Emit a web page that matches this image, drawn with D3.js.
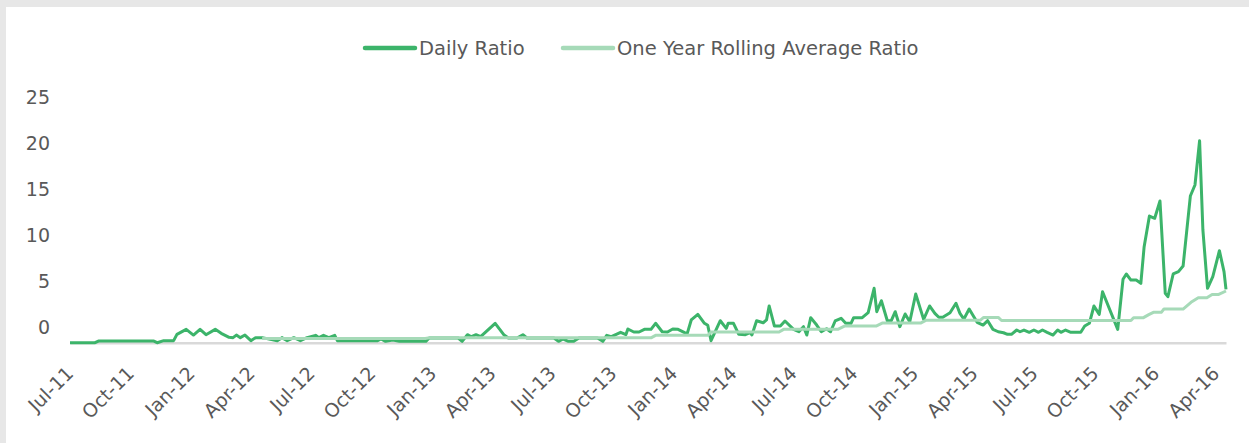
<!DOCTYPE html>
<html>
<head>
  <meta charset="UTF-8">
  <title>Daily Ratio vs One Year Rolling Average</title>
  <script src="https://d3js.org/d3.v7.min.js"></script>
  <style>
    body {
      margin: 0;
      padding: 0;
      background-color: #e7e7e7;
      font-family: 'DejaVu Sans', sans-serif;
    }
    svg text {
      fill: #595959;
    }
  </style>
</head>
<body>
  <svg id="chart"></svg>
  <script>
    // weekly ratio, vertices
    const dailyDates = [
      "2011-07-01","2011-08-08","2011-08-13","2011-11-05","2011-11-10","2011-11-20","2011-12-05","2011-12-10",
      "2011-12-24","2012-01-04","2012-01-14","2012-01-23","2012-02-06","2012-02-15","2012-02-27","2012-03-04",
      "2012-03-09","2012-03-15","2012-03-22","2012-03-31","2012-04-07","2012-04-17","2012-05-10","2012-05-17",
      "2012-05-25","2012-06-04","2012-06-14","2012-06-24","2012-07-07","2012-07-12","2012-07-19","2012-07-27",
      "2012-08-05","2012-08-09","2012-10-09","2012-10-14","2012-10-21","2012-11-01","2012-11-11","2012-12-21",
      "2012-12-26","2013-02-08","2013-02-14","2013-02-22","2013-02-28","2013-03-07","2013-03-14","2013-04-05",
      "2013-04-18","2013-04-25","2013-05-08","2013-05-17","2013-05-23","2013-07-03","2013-07-10","2013-07-17",
      "2013-07-25","2013-08-02","2013-08-10","2013-09-07","2013-09-15","2013-09-21","2013-09-28","2013-10-12",
      "2013-10-20","2013-10-23","2013-11-01","2013-11-09","2013-11-17","2013-11-27","2013-12-04","2013-12-14",
      "2013-12-22","2013-12-30","2014-01-07","2014-01-17","2014-01-21","2014-01-27","2014-02-06","2014-02-16",
      "2014-02-21","2014-02-26","2014-03-12","2014-03-21","2014-03-24","2014-04-01","2014-04-09","2014-04-19",
      "2014-04-26","2014-04-29","2014-05-06","2014-05-16","2014-05-21","2014-05-25","2014-06-02","2014-06-11",
      "2014-06-18","2014-07-01","2014-07-09","2014-07-16","2014-07-21","2014-07-27","2014-08-05","2014-08-12",
      "2014-08-20","2014-08-26","2014-09-02","2014-09-11","2014-09-18","2014-09-26","2014-09-30","2014-10-13",
      "2014-10-22","2014-10-31","2014-11-04","2014-11-11","2014-11-20","2014-11-26","2014-12-02","2014-12-09",
      "2014-12-17","2014-12-24","2015-01-02","2015-01-14","2015-01-23","2015-01-31","2015-02-06","2015-02-12",
      "2015-02-23","2015-03-04","2015-03-10","2015-03-16","2015-03-24","2015-04-05","2015-04-14","2015-04-21",
      "2015-04-29","2015-05-07","2015-05-15","2015-05-21","2015-05-27","2015-06-04","2015-06-09","2015-06-15",
      "2015-06-23","2015-06-30","2015-07-07","2015-07-13","2015-07-20","2015-07-29","2015-08-05","2015-08-10",
      "2015-08-17","2015-08-25","2015-09-09","2015-09-15","2015-09-22","2015-09-29","2015-10-07","2015-10-12",
      "2015-11-04","2015-11-12","2015-11-17","2015-11-24","2015-12-02","2015-12-09","2015-12-14","2015-12-22",
      "2015-12-30","2016-01-07","2016-01-15","2016-01-19","2016-01-27","2016-02-04","2016-02-11","2016-02-22",
      "2016-02-29","2016-03-07","2016-03-12","2016-03-19","2016-03-27","2016-04-06","2016-04-13","2016-04-16"
    ];
    const dailyValues = [
      -1.65,-1.65,-1.47,-1.47,-1.65,-1.43,-1.43,-0.74,
      -0.2,-0.82,-0.2,-0.78,-0.2,-0.63,-1.07,-1.1,
      -0.82,-1.1,-0.82,-1.43,-1.1,-1.1,-1.43,-1.1,
      -1.43,-1.1,-1.43,-1.1,-0.85,-1.1,-0.85,-1.1,
      -0.85,-1.43,-1.43,-1.25,-1.5,-1.35,-1.5,-1.5,
      -1.14,-1.14,-1.5,-0.78,-1.0,-0.78,-1.0,0.46,
      -0.78,-1.14,-1.14,-0.78,-1.14,-1.14,-1.5,-1.25,
      -1.5,-1.5,-1.14,-1.14,-1.5,-0.85,-1.0,-0.52,
      -0.78,-0.16,-0.49,-0.49,-0.2,-0.2,0.46,-0.46,
      -0.49,-0.16,-0.2,-0.56,-0.63,0.82,1.43,0.46,
      0.24,-1.43,0.74,-0.09,0.46,0.46,-0.74,-0.78,
      -0.56,-0.8,0.74,0.52,0.82,2.34,0.16,0.16,
      0.71,-0.2,-0.46,0.09,-0.82,1.07,0.27,-0.46,
      -0.13,-0.46,0.71,1.0,0.46,0.46,1.07,1.07,
      1.61,4.26,1.72,2.91,0.74,0.74,1.72,0.09,
      1.47,0.63,3.64,0.89,2.34,1.54,1.11,1.11,
      1.61,2.63,1.54,0.92,2.01,0.57,0.27,0.74,
      -0.2,-0.46,-0.57,-0.74,-0.74,-0.27,-0.46,-0.27,
      -0.52,-0.27,-0.52,-0.27,-0.52,-0.82,-0.27,-0.52,
      -0.27,-0.52,-0.52,0.16,0.46,2.34,1.43,3.89,
      -0.2,5.24,5.82,5.16,5.16,4.8,8.78,12.12,
      11.87,13.75,3.72,3.35,5.82,6.07,6.68,14.29,
      15.49,20.3,10.6,4.26,5.52,8.35,6.07,4.15
    ];

    const rollingDates = [
      "2012-04-17","2012-12-20","2012-12-27","2013-11-27","2013-12-04","2014-02-21","2014-02-26","2014-06-09",
      "2014-06-16","2014-09-06","2014-09-16","2014-11-03","2014-11-13","2015-01-10","2015-01-18","2015-04-10",
      "2015-04-15","2015-05-07","2015-05-12","2015-11-24","2015-11-28","2015-12-13","2015-12-21","2015-12-28",
      "2016-01-09","2016-01-13","2016-02-11","2016-02-23","2016-03-05","2016-03-18","2016-03-26","2016-04-05",
      "2016-04-16"
    ];
    const rollingValues = [
      -1.2,-1.2,-1.12,-1.12,-0.85,-0.85,-0.49,-0.49,
      -0.2,-0.2,0.16,0.16,0.5,0.5,0.8,0.8,
      1.1,1.1,0.76,0.76,1.07,1.07,1.4,1.65,
      1.65,2.01,2.01,2.74,3.24,3.24,3.6,3.6,
      3.97
    ];

    const yTicks = [0, 5, 10, 15, 20, 25];
    const seriesNames = ["Daily Ratio", "One Year Rolling Average Ratio"];
    const seriesColors = ["#3cb46a", "#a6dab8"];

    const W = 1249, H = 443;
    const parse = d3.timeParse("%Y-%m-%d");
    const daily = dailyDates.map((d, i) => ({ date: parse(d), value: dailyValues[i] }));
    const rolling = rollingDates.map((d, i) => ({ date: parse(d), value: rollingValues[i] }));

    const x = d3.scaleTime()
      .domain([parse("2011-07-01"), parse("2016-04-16")])
      .range([70, 1226]);

    const y = d3.scaleLinear()
      .domain([-1.65, 25])
      .range([342.7, 97.5]);

    const svg = d3.select("#chart")
      .attr("width", W)
      .attr("height", H)
      .style("display", "block");

    svg.append("rect")
      .attr("x", 6).attr("y", 7)
      .attr("width", W - 6).attr("height", H - 7)
      .attr("fill", "#ffffff");

    // y labels (no axis line, no grid)
    const yAxis = svg.append("g")
      .attr("transform", "translate(50,0)")
      .call(d3.axisLeft(y).tickValues(yTicks).tickSize(0).tickPadding(0));
    yAxis.select(".domain").remove();
    yAxis.selectAll("text")
      .style("font-size", "19px")
      .style("font-family", "'DejaVu Sans', sans-serif")
      .attr("fill", "#595959");

    // x axis
    const xAxis = svg.append("g")
      .attr("transform", `translate(0,${y(-1.65)})`)
      .call(d3.axisBottom(x)
        .ticks(d3.timeMonth.every(3))
        .tickFormat(d3.timeFormat("%b-%y"))
        .tickSize(0));
    xAxis.select(".domain")
      .attr("stroke", "#d9d9d9")
      .attr("stroke-width", 2.5);
    xAxis.selectAll("text")
      .attr("fill", "#595959")
      .style("font-size", "19px")
      .style("font-family", "'DejaVu Sans', sans-serif")
      .style("text-anchor", "end")
      .attr("dy", 0)
      .attr("y", 0)
      .attr("transform", "translate(4,32) rotate(-45)");

    const line = d3.line()
      .x(d => x(d.date))
      .y(d => y(d.value));

    svg.append("path")
      .datum(daily)
      .attr("fill", "none")
      .attr("stroke", seriesColors[0])
      .attr("stroke-width", 3)
      .attr("stroke-linejoin", "round")
      .attr("d", line);

    svg.append("path")
      .datum(rolling)
      .attr("fill", "none")
      .attr("stroke", seriesColors[1])
      .attr("stroke-width", 3)
      .attr("stroke-linejoin", "round")
      .attr("d", line);

    // legend
    const legendX = [365, 563];
    const legend = svg.append("g");
    seriesNames.forEach((name, i) => {
      legend.append("line")
        .attr("x1", legendX[i]).attr("x2", legendX[i] + 50)
        .attr("y1", 48).attr("y2", 48)
        .attr("stroke", seriesColors[i])
        .attr("stroke-width", 4.5)
        .attr("stroke-linecap", "round");
      legend.append("text")
        .attr("x", legendX[i] + 54)
        .attr("y", 48)
        .attr("dy", "0.35em")
        .style("font-size", "19.5px")
        .text(name);
    });
  </script>
</body>
</html>
